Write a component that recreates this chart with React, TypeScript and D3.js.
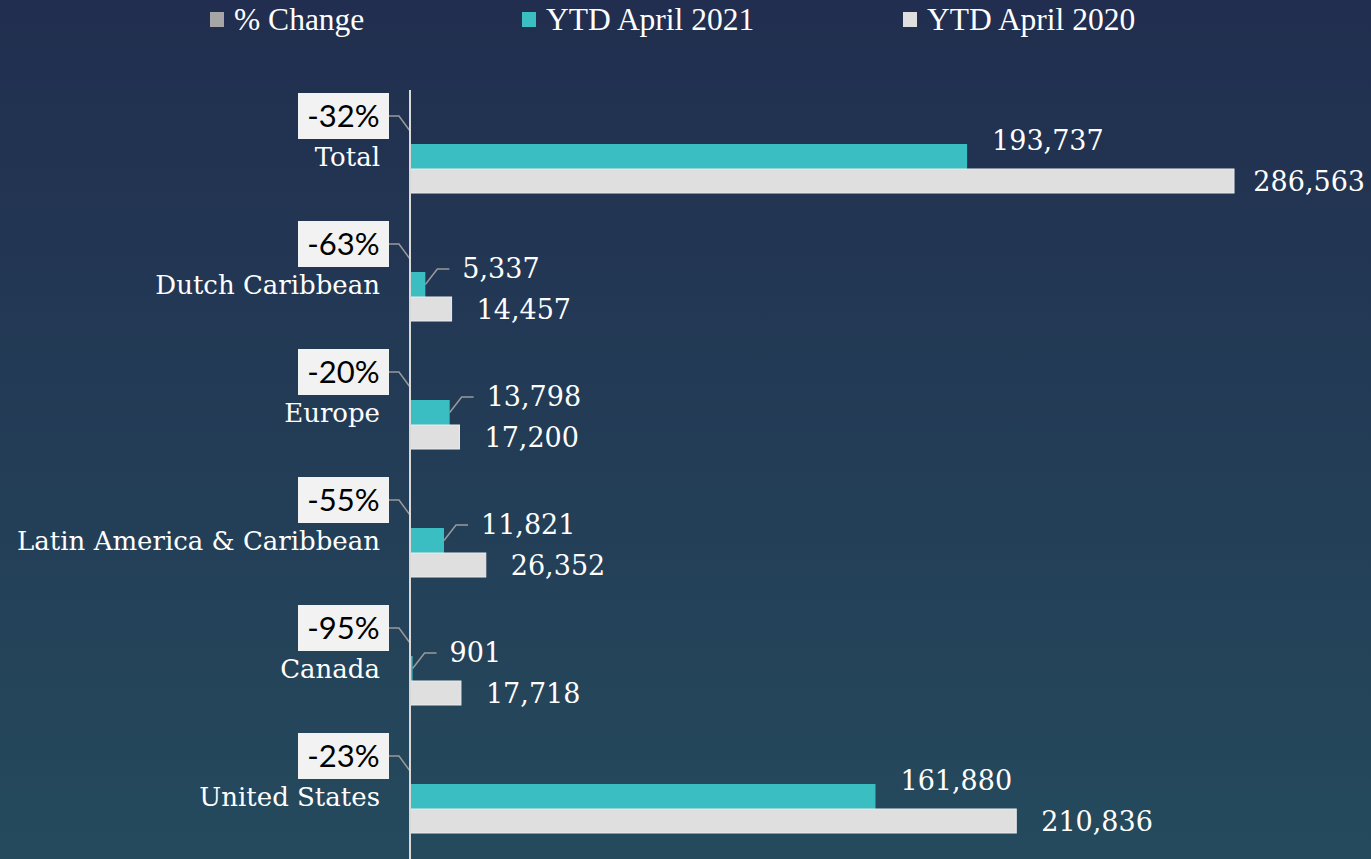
import React from "react";
import * as d3 from "d3";

const categories = ["Total", "Dutch Caribbean", "Europe", "Latin America & Caribbean", "Canada", "United States"];
const ytd2021 = [193737, 5337, 13798, 11821, 901, 161880];
const ytd2020 = [286563, 14457, 17200, 26352, 17718, 210836];
const pctChange = ["-32%", "-63%", "-20%", "-55%", "-95%", "-23%"];
const legendLabels = ["% Change", "YTD April 2021", "YTD April 2020"];

const W = 1371;
const H = 859;
const TEAL = "#3bbec2";
const LIGHT = "#dfdfdf";
const GREY = "#a6a6a6";
const SERIF = "'DejaVu Serif', serif";
const SANS = "Lato, 'Open Sans', sans-serif";

export default function App() {
  const x = d3.scaleLinear().domain([0, 286563]).range([410, 1234]);
  const y = d3.scaleBand<string>().domain(categories).range([144, 144 + 128 * 6]).paddingInner(0).paddingOuter(0);
  const barH = 25;
  const legendX = [210, 522, 903];
  const legendColors = [GREY, TEAL, LIGHT];

  return (
    <svg width={W} height={H} style={{ position: "absolute", left: 0, top: 0 }}>
      <defs>
        <linearGradient id="bg" x1="0" y1="0" x2="0" y2="1">
          <stop offset="0%" stopColor="#212e4f" />
          <stop offset="100%" stopColor="#254a5d" />
        </linearGradient>
      </defs>
      <rect x={0} y={0} width={W} height={H} fill="url(#bg)" />

      {legendLabels.map((l, i) => (
        <g key={l}>
          <rect x={legendX[i]} y={12} width={14} height={15} fill={legendColors[i]} />
          <text x={legendX[i] + 24} y={30} fill="#ffffff" fontFamily="'Liberation Serif', serif" fontSize={31.5}>
            {l}
          </text>
        </g>
      ))}

      {categories.map((c, i) => {
        const top = y(c) as number;
        const e21 = x(ytd2021[i]);
        const e20 = x(ytd2020[i]);
        const mid21 = top + barH / 2;
        const mid20 = top + barH + barH / 2;
        const lab21Y = top - 3;
        const small = ytd2021[i] < 50000;
        const lab21X = small ? e21 + 37 : e21 + 25;
        const far20 = e20 + 25 + 130 > W;
        const boxCY = top - 28;
        return (
          <g key={c}>
            <rect x={x(0)} y={top} width={e21 - x(0)} height={barH} fill={TEAL} />
            <rect x={x(0)} y={top + barH} width={e20 - x(0)} height={barH - 1} fill={LIGHT} stroke="#ececec" strokeWidth={1} />
            <text x={380} y={mid21} dy="0.35em" textAnchor="end" fill="#ffffff" fontFamily={SERIF} fontSize={26}>
              {c}
            </text>
            {small && (
              <polyline
                points={`${e21},${mid21} ${e21 + 12},${lab21Y} ${e21 + 24},${lab21Y}`}
                fill="none"
                stroke="#9a9a9a"
                strokeWidth={1.5}
              />
            )}
            <text x={lab21X} y={lab21Y} dy="0.35em" fill="#ffffff" fontFamily={SERIF} fontSize={27}>
              {d3.format(",")(ytd2021[i])}
            </text>
            <text
              x={far20 ? W - 6 : e20 + 25}
              y={mid20}
              dy="0.35em"
              textAnchor={far20 ? "end" : "start"}
              fill="#ffffff"
              fontFamily={SERIF}
              fontSize={27}
            >
              {d3.format(",")(ytd2020[i])}
            </text>
            <rect x={298} y={boxCY - 23} width={91} height={46} fill="#f2f2f2" />
            <text x={343.5} y={boxCY} dy="0.36em" textAnchor="middle" fill="#000000" fontFamily={SANS} fontSize={31}>
              {pctChange[i]}
            </text>
            <polyline
              points={`389,${boxCY} 399,${boxCY} 410,${boxCY + 15}`}
              fill="none"
              stroke="#9a9a9a"
              strokeWidth={1.5}
            />
          </g>
        );
      })}

      <line x1={410} y1={90} x2={410} y2={H} stroke="#d9d9d9" strokeWidth={2} />
    </svg>
  );
}
